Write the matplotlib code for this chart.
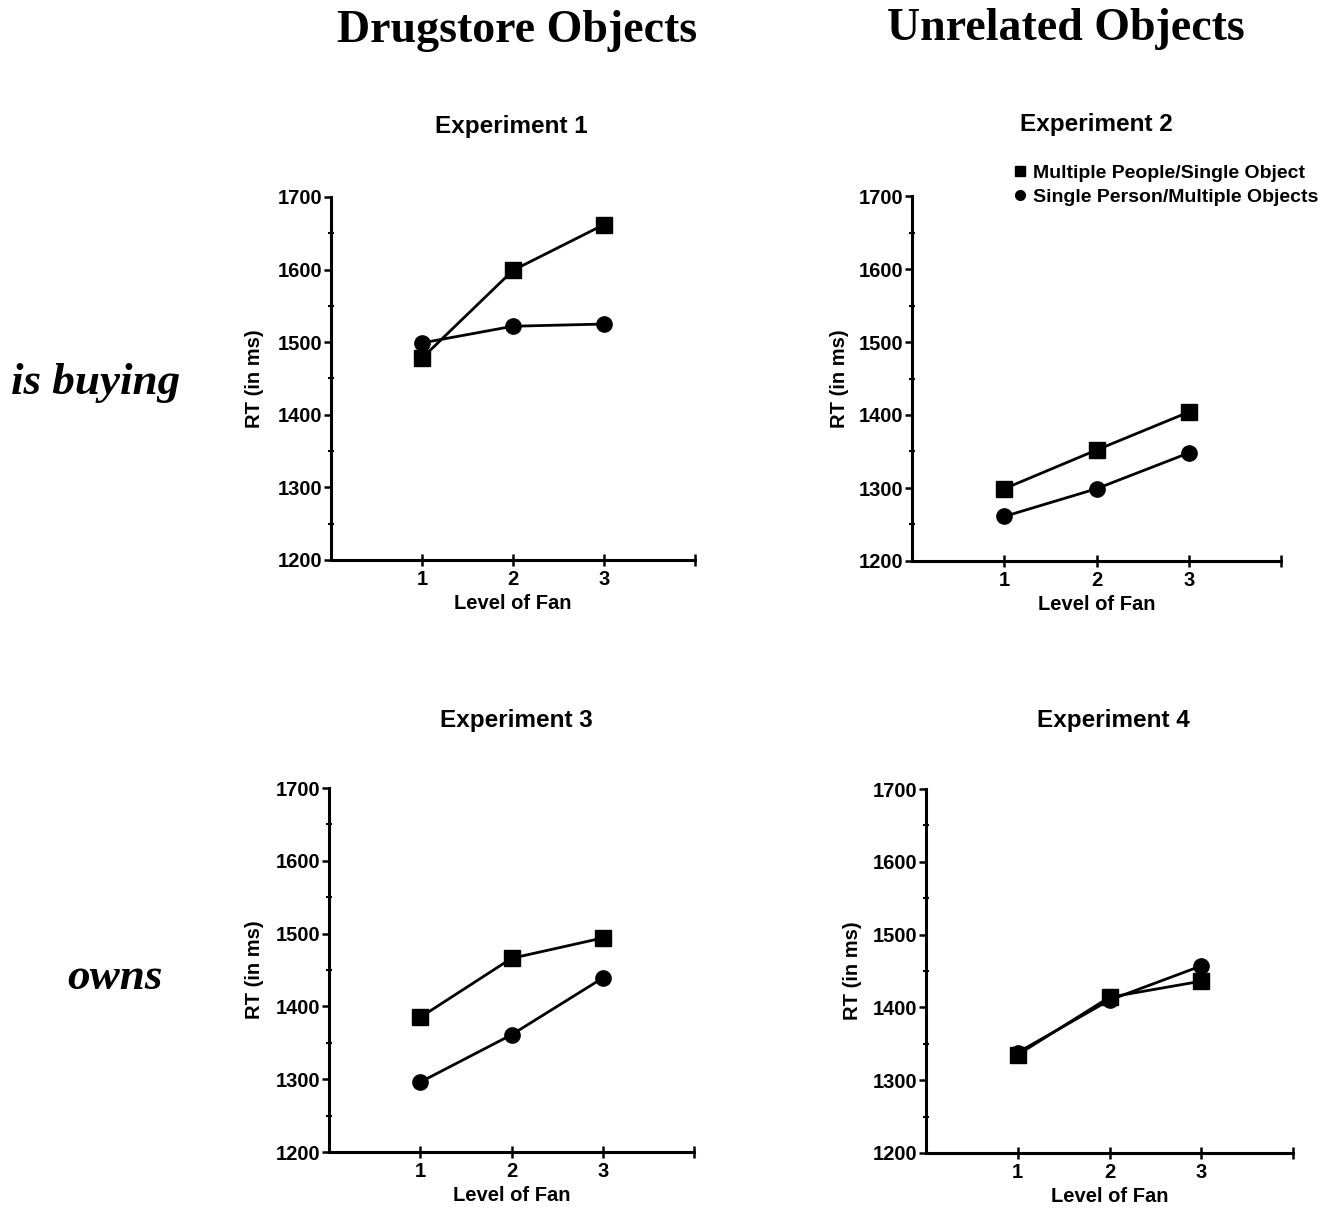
import matplotlib
matplotlib.use("Agg")
import matplotlib.pyplot as plt
from matplotlib.lines import Line2D
from matplotlib.ticker import MultipleLocator

fan_levels = [1, 2, 3]

exp_titles = ["Experiment 1", "Experiment 2", "Experiment 3", "Experiment 4"]
series_labels = ["Multiple People/Single Object", "Single Person/Multiple Objects"]

exp1_multi_people = [1478, 1599, 1662]
exp1_single_person = [1499, 1522, 1525]
exp2_multi_people = [1299, 1352, 1404]
exp2_single_person = [1261, 1299, 1348]
exp3_multi_people = [1385, 1466, 1494]
exp3_single_person = [1296, 1361, 1439]
exp4_multi_people = [1335, 1414, 1436]
exp4_single_person = [1338, 1410, 1457]

col_titles = ["Drugstore Objects", "Unrelated Objects"]
row_titles = ["is buying", "owns"]

W, H = 1340, 1208
fig = plt.figure(figsize=(W / 100, H / 100), dpi=100)

SANS = "Liberation Sans"
SERIF = "Liberation Serif"
SW = "bold"

# axes rects in pixels: left, right, top, bottom
rects = [
    (331, 695, 197, 560),
    (912, 1281, 196, 561),
    (329, 694, 788, 1152),
    (926, 1293, 789, 1153),
]
ylabel_x = [-0.184, -0.171, -0.178, -0.174]
title_pos = [(511, 126), (1096, 124), (516, 720), (1113, 720)]

data = [
    (exp1_multi_people, exp1_single_person),
    (exp2_multi_people, exp2_single_person),
    (exp3_multi_people, exp3_single_person),
    (exp4_multi_people, exp4_single_person),
]

axes = []
for i, (l, r, t, b) in enumerate(rects):
    ax = fig.add_axes([l / W, 1 - b / H, (r - l) / W, (b - t) / H])
    axes.append(ax)
    sq, ci = data[i]
    ax.plot(fan_levels, ci, color="black", lw=2.0, marker="o", ms=11,
            clip_on=False, zorder=3)
    ax.plot(fan_levels, sq, color="black", lw=2.0, marker="s", ms=11.5,
            clip_on=False, zorder=4)
    ax.set_xlim(0, 4)
    ax.set_ylim(1200, 1700)
    ax.set_xticks([1, 2, 3, 4])
    ax.set_xticklabels(["1", "2", "3", ""])
    ax.yaxis.set_major_locator(MultipleLocator(100))
    ax.yaxis.set_minor_locator(MultipleLocator(50))
    for s in ["top", "right"]:
        ax.spines[s].set_visible(False)
    for s in ["left", "bottom"]:
        ax.spines[s].set_linewidth(2.2)
    ax.tick_params(axis="x", which="major", direction="inout", length=9,
                   width=1.8, pad=3)
    ax.tick_params(axis="y", which="major", direction="out", length=5,
                   width=1.8, pad=1)
    ax.tick_params(axis="y", which="minor", direction="inout", length=4,
                   width=1.5)
    for lab in ax.get_xticklabels() + ax.get_yticklabels():
        lab.set_fontfamily(SANS)
        lab.set_fontweight(SW)
        lab.set_fontsize(14.5)
    ax.set_xlabel("Level of Fan", fontfamily=SANS, fontweight=SW, fontsize=14.5)
    ax.xaxis.set_label_coords(0.5, -0.094)
    ax.set_ylabel("RT (in ms)", fontfamily=SANS, fontweight=SW, fontsize=14.5)
    ax.yaxis.set_label_coords(ylabel_x[i], 0.5)
    tx, ty = title_pos[i]
    fig.text(tx / W, 1 - ty / H, exp_titles[i], fontfamily=SANS,
             fontweight=SW, fontsize=17.5, ha="center", va="center")

# legend in Experiment 2 panel
handles = [
    Line2D([], [], color="black", marker="s", ls="none", ms=7),
    Line2D([], [], color="black", marker="o", ls="none", ms=7),
]
axes[1].legend(handles, series_labels, loc="upper left",
               bbox_to_anchor=(1014 / W, 1 - 164 / H),
               bbox_transform=fig.transFigure, frameon=False,
               prop={"family": SANS, "weight": SW, "size": 14},
               handlelength=0.6, handletextpad=0.37, borderpad=0,
               borderaxespad=0, labelspacing=0.36)

fig.text(517 / W, 1 - 31 / H, col_titles[0], fontfamily=SERIF,
         fontweight="bold", fontsize=33, ha="center", va="center")
fig.text(1066 / W, 1 - 29 / H, col_titles[1], fontfamily=SERIF,
         fontweight="bold", fontsize=33, ha="center", va="center")
fig.text(96 / W, 1 - 383 / H, row_titles[0], fontfamily=SERIF,
         fontweight="bold", fontstyle="italic", fontsize=32.5,
         ha="center", va="center")
fig.text(115 / W, 1 - 978 / H, row_titles[1], fontfamily=SERIF,
         fontweight="bold", fontstyle="italic", fontsize=32.5,
         ha="center", va="center")

fig.savefig("out.png", dpi=100, facecolor="white")
